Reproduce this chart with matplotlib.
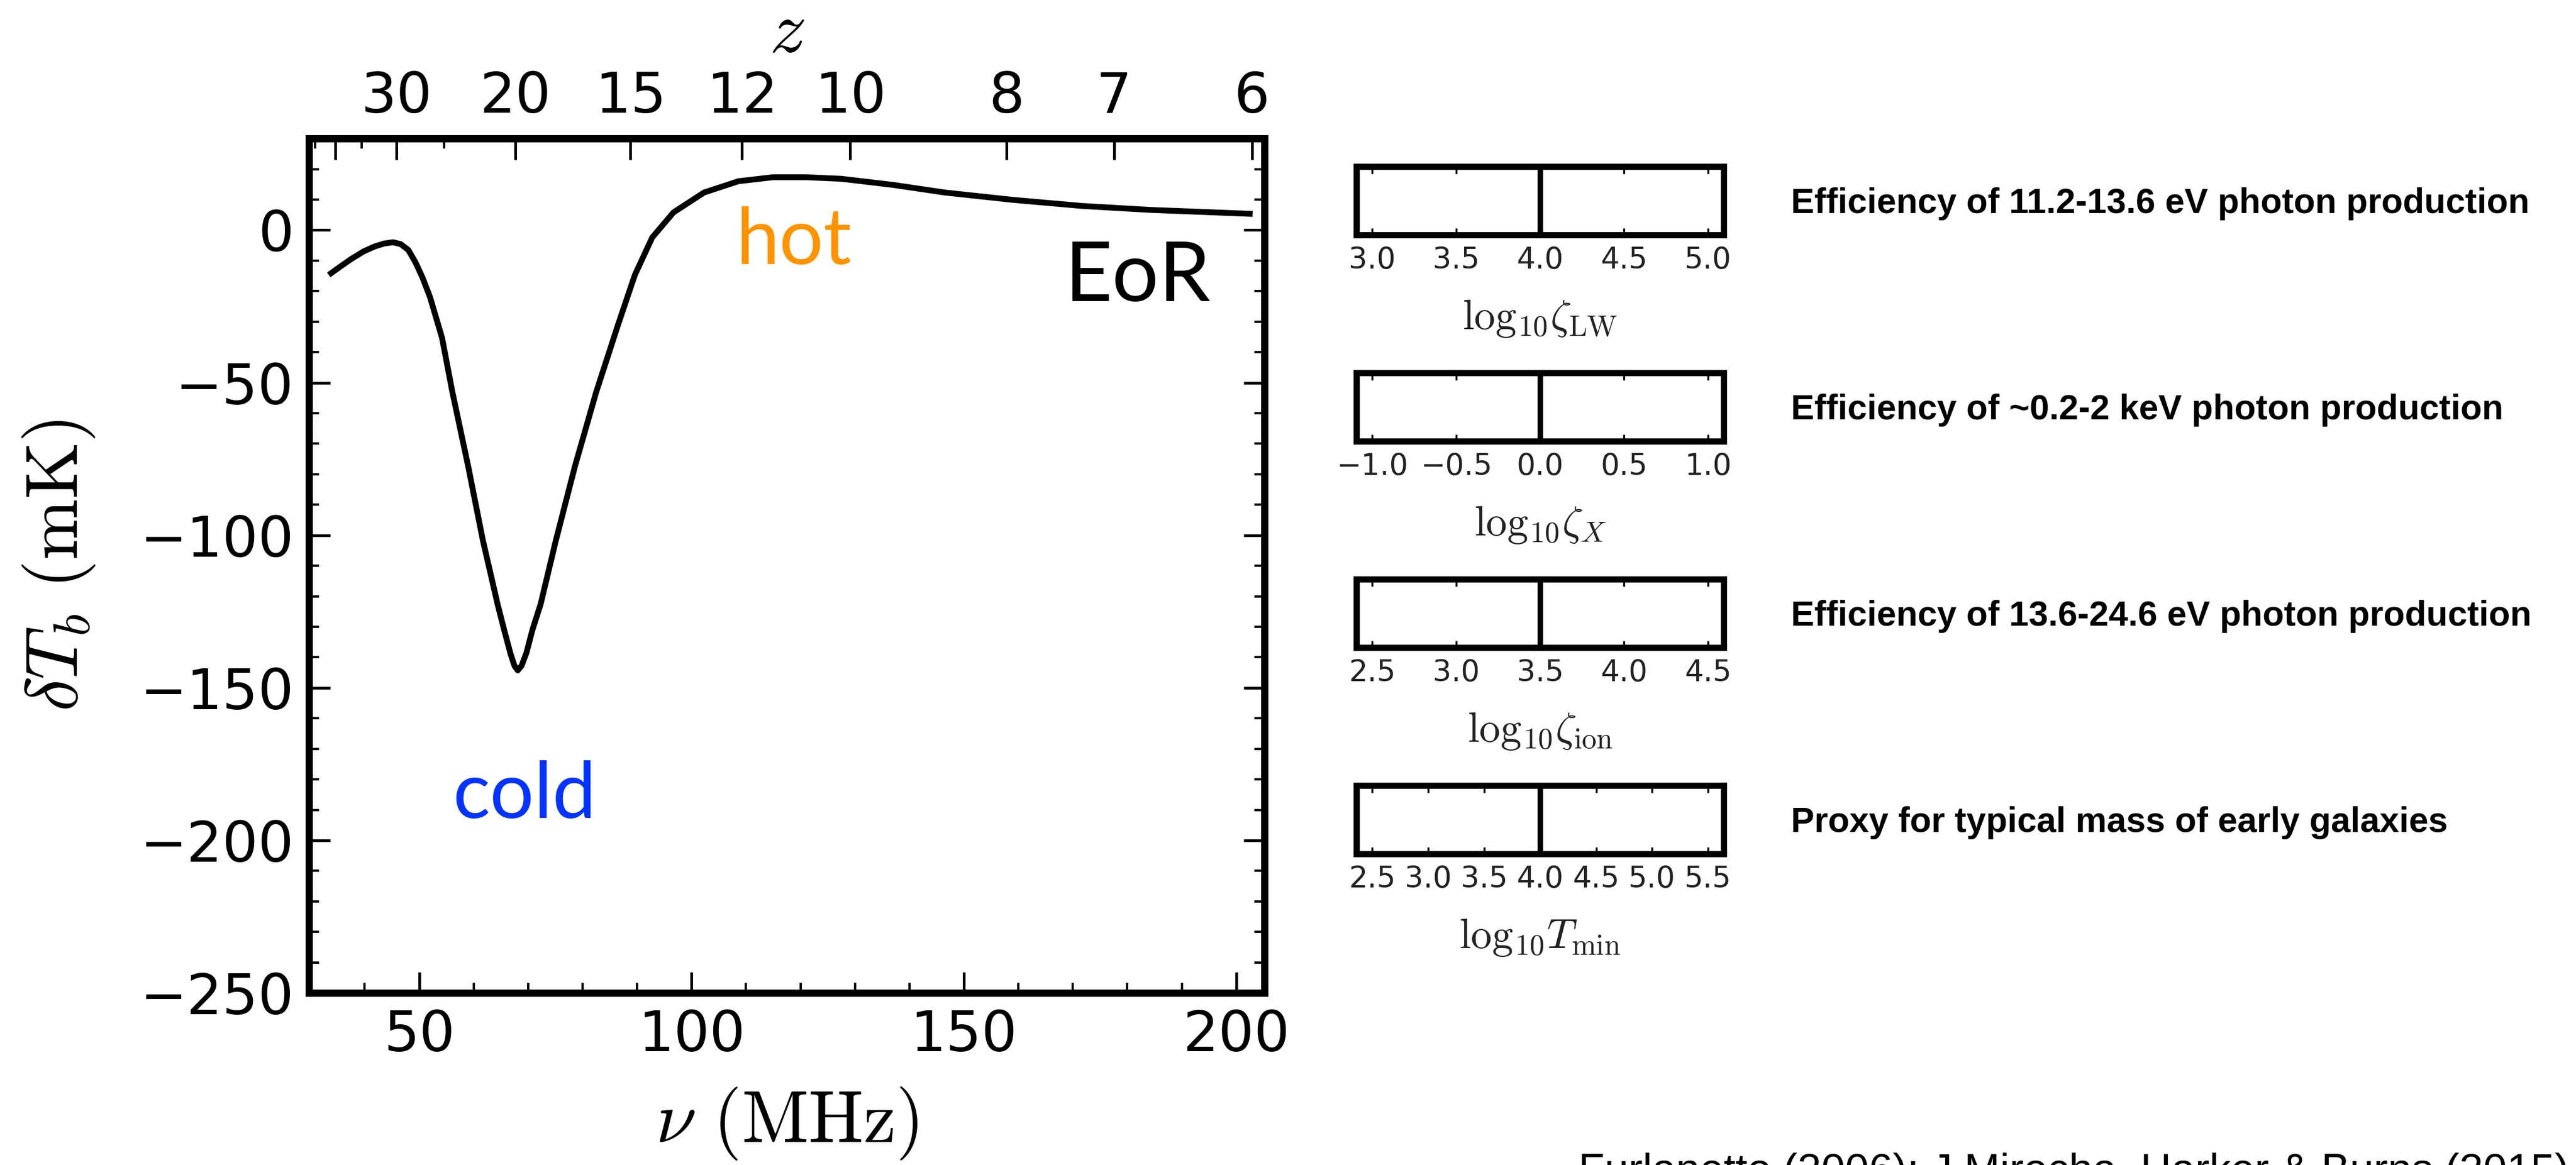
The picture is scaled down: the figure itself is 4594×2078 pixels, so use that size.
import matplotlib
matplotlib.use('Agg')
import matplotlib.pyplot as plt
from matplotlib.ticker import MultipleLocator, FixedLocator

plt.rcParams['mathtext.fontset'] = 'cm'

# global 21-cm signal, brightness temperature vs observed frequency
nu_mhz = [33.4, 35.5, 37.6, 39.8, 41.8, 43.6, 45.2, 46.6, 48.0, 49.3, 50.6,
          52.0, 54.2, 56.1, 59.0, 61.7, 64.4, 65.6, 66.8, 67.5, 68.1, 68.8,
          69.7, 70.8, 72.3, 75.1, 78.6, 82.5, 86.5, 89.6, 92.8, 96.7, 102.3,
          108.6, 114.9, 121.2, 127.5, 137.0, 146.5, 159.0, 171.7, 184.3, 203.0]
dtb_mk = [-14.7, -12.0, -9.4, -7.0, -5.4, -4.4, -4.0, -4.6, -6.5, -10.5, -15.5,
          -22.0, -35.3, -53.1, -77.4, -101.7, -122.6, -131.0, -139.0, -142.8, -144.3, -142.8,
          -138.5, -131.0, -122.6, -101.7, -77.4, -53.1, -31.1, -14.7, -2.4, 5.8, 12.3,
          16.0, 17.3, 17.3, 16.8, 14.8, 12.3, 9.9, 7.9, 6.6, 5.3]

# redshift ticks on the top axis
z_major = [40, 30, 20, 15, 12, 10, 8, 7, 6]
z_labels = ['', '30', '20', '15', '12', '10', '8', '7', '6']
z_minor = [45, 35, 25]
NU_21 = 1420.4057

# parameter sliders
param_labels = [r'$\mathrm{log}_{10}\zeta_{\rm LW}$', r'$\mathrm{log}_{10}\zeta_{X}$',
                r'$\mathrm{log}_{10}\zeta_{\rm ion}$', r'$\mathrm{log}_{10}T_{\rm min}$']
param_ticks = [[3.0, 3.5, 4.0, 4.5, 5.0],
               [-1.0, -0.5, 0.0, 0.5, 1.0],
               [2.5, 3.0, 3.5, 4.0, 4.5],
               [2.5, 3.0, 3.5, 4.0, 4.5, 5.0, 5.5]]
param_values = [4.0, 0.0, 3.5, 4.0]
param_desc = ['Efficiency of 11.2-13.6 eV photon production',
              'Efficiency of ~0.2-2 keV photon production',
              'Efficiency of 13.6-24.6 eV photon production',
              'Proxy for typical mass of early galaxies']

citation = 'Furlanetto (2006); J Mirocha, Harker & Burns (2015)'

W, H = 4594, 2078
fig = plt.figure(figsize=(W / 100, H / 100), dpi=100)

# main panel
ax = fig.add_axes([0.1200, 0.1477, 0.3709, 0.7334])
ax.plot(nu_mhz, dtb_mk, color='black', lw=7.5, solid_joinstyle='round',
        solid_capstyle='butt')
ax.set_xlim(29.8, 205.2)
ax.set_ylim(-250, 30)
ax.set_xticks([50, 100, 150, 200])
ax.set_yticks([0, -50, -100, -150, -200, -250])
ax.xaxis.set_minor_locator(MultipleLocator(10))
ax.yaxis.set_minor_locator(MultipleLocator(10))
ax.tick_params(which='both', direction='in', top=False, right=True,
               labelsize=72, pad=20, color='black')
ax.tick_params(which='major', length=27, width=3.5)
ax.tick_params(which='minor', length=13, width=3)
for sp in ax.spines.values():
    sp.set_linewidth(9)

ax.set_xlabel(r'$\nu\ (\mathrm{MHz})$', fontsize=94)
ax.xaxis.set_label_coords(0.5, -0.108)
ax.set_ylabel(r'$\delta T_b\ (\mathrm{mK})$', fontsize=94)
ax.yaxis.set_label_coords(-0.222, 0.5)

# redshift axis
ax2 = ax.twiny()
ax2.set_xlim(ax.get_xlim())
ax2.xaxis.set_major_locator(FixedLocator([NU_21 / (1 + z) for z in z_major]))
ax2.set_xticklabels(z_labels)
ax2.xaxis.set_minor_locator(FixedLocator([NU_21 / (1 + z) for z in z_minor]))
ax2.tick_params(which='both', direction='in', labelsize=72, pad=18)
ax2.tick_params(which='major', length=27, width=3.5)
ax2.tick_params(which='minor', length=13, width=3)
for sp in ax2.spines.values():
    sp.set_linewidth(9)
ax2.set_xlabel(r'$z$', fontsize=94)
ax2.xaxis.set_label_coords(0.5, 1.101)

# slide annotations
ax.text(108.1, -11.2, 'hot', color='#FF9300', fontsize=100, family='Lato',
        ha='left', va='baseline')
ax.text(56.1, -192.6, 'cold', color='#0433FF', fontsize=100, family='Lato',
        ha='left', va='baseline')
ax.text(168.5, -23.3, 'EoR', color='black', fontsize=106, family='Lato',
        ha='left', va='baseline')

# sliders, one per parameter
slider_bottoms = [0.7984, 0.6213, 0.4442, 0.2671]
for i in range(4):
    sax = fig.add_axes([0.5266, slider_bottoms[i], 0.1426, 0.0587])
    ticks = param_ticks[i]
    span = ticks[-1] - ticks[0]
    sax.set_xlim(ticks[0] - 0.047 * span, ticks[-1] + 0.047 * span)
    sax.set_ylim(0, 1)
    sax.axvline(param_values[i], color='black', lw=7)
    sax.set_xticks(ticks)
    sax.set_yticks([])
    sax.tick_params(axis='x', direction='in', top=True, length=9, width=2.5,
                    labelsize=38, labelcolor='#222222', pad=14)
    for sp in sax.spines.values():
        sp.set_linewidth(8)
    sax.set_xlabel(param_labels[i], fontsize=54, color='#222222')
    sax.xaxis.set_label_coords(0.5, -0.93)

    yc = 1 - (358 + 368 * i) / H
    fig.text(0.6953, yc - 22 / H, param_desc[i], fontsize=45, weight='bold',
             family='Liberation Sans', ha='left', va='baseline')

fig.text(2815 / W, 1 - 2056 / H, citation, fontsize=55,
         family='Liberation Sans', ha='left', va='top')

fig.savefig('out.png', dpi=100, facecolor='white')
